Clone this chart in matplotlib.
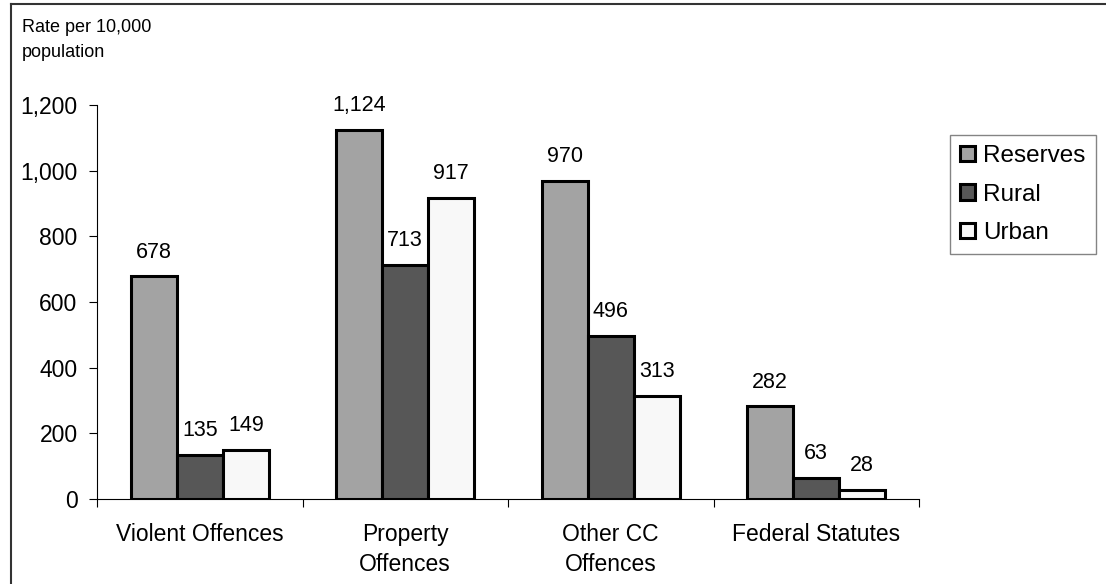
import matplotlib.pyplot as plt
import numpy as np
from matplotlib.patches import Patch
from matplotlib.lines import Line2D

plt.rcParams['font.family'] = ['Liberation Sans', 'DejaVu Sans']

categories = ["Violent Offences", "Property\nOffences", "Other CC\nOffences", "Federal Statutes"]
series = ["Reserves", "Rural", "Urban"]
reserves = [678, 1124, 970, 282]
rural = [135, 713, 496, 63]
urban = [149, 917, 313, 28]
colors = ["#a3a3a3", "#575757", "#f8f8f8"]

fig = plt.figure(figsize=(11.06, 5.84), dpi=100)
ax = fig.add_axes([97 / 1106, 1 - 499 / 584, (919 - 97) / 1106, (499 - 105) / 584])

x = np.arange(len(categories))
w = 0.224
for i, (vals, col) in enumerate(zip([reserves, rural, urban], colors)):
    pos = x + (i - 1) * w
    ax.bar(pos, vals, width=w, color=col, edgecolor="black", linewidth=2.2, zorder=3)
    for p, v in zip(pos, vals):
        ax.annotate(f"{v:,}", (p, v), xytext=(0, 10), textcoords="offset points",
                    ha="center", va="bottom", fontsize=15.5)

ax.set_xlim(-0.5, 3.5)
ax.set_ylim(0, 1200)
ax.set_yticks(range(0, 1201, 200))
ax.set_yticklabels([f"{t:,}" for t in range(0, 1201, 200)], fontsize=16.5)
ax.set_xticks(x)
ax.set_xticklabels(categories, fontsize=16.5, linespacing=1.4)
ax.tick_params(axis="x", which="major", length=0, pad=17)
ax.set_xticks(np.arange(-0.5, 4, 1), minor=True)
ax.tick_params(axis="x", which="minor", length=6, direction="out", width=0.8)
ax.tick_params(axis="y", length=6, width=0.8, pad=8)
ax.spines["top"].set_visible(False)
ax.spines["right"].set_visible(False)
ax.spines["left"].set_linewidth(0.8)
ax.spines["bottom"].set_linewidth(0.8)

fig.text(22 / 1106, 1 - 40 / 584, "Rate per 10,000\npopulation", fontsize=13,
         ha="left", va="center", linespacing=1.65)

handles = [Patch(facecolor=c, edgecolor="black", linewidth=2.2) for c in colors]
leg = fig.legend(handles, series, loc="upper left",
                 bbox_to_anchor=(950 / 1106, 1 - 135 / 584), fontsize=17.5,
                 frameon=True, fancybox=False, handlelength=0.6, handleheight=0.6,
                 handletextpad=0.35, labelspacing=0.68, borderpad=0.42, borderaxespad=0)
leg.get_frame().set_edgecolor("#666666")
leg.get_frame().set_linewidth(1.0)

# figure frame (left and top edges visible)
fig.add_artist(Line2D([11 / 1106, 11 / 1106], [0, 1 - 4 / 584], transform=fig.transFigure,
                      color="#333333", linewidth=1.5))
fig.add_artist(Line2D([11 / 1106, 1], [1 - 4 / 584, 1 - 4 / 584], transform=fig.transFigure,
                      color="#333333", linewidth=1.5))

fig.savefig("out.png", dpi=100)
